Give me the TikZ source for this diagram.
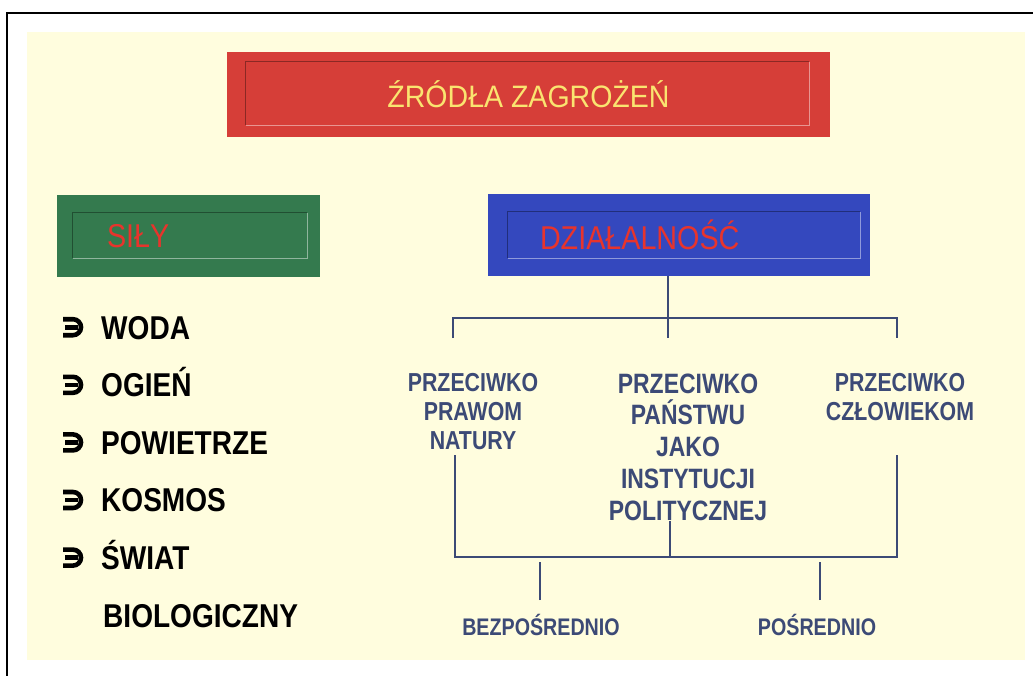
\documentclass[tikz,border=0pt]{standalone}
\usepackage{fontspec}
\setmainfont{Liberation Sans}
\newfontfamily\tytfont[FakeStretch=0.92]{Liberation Sans}
\newfontfamily\naglfont[FakeStretch=0.87]{Liberation Sans}
\newfontfamily\listfont[FakeStretch=0.85]{Liberation Sans}
\newfontfamily\drzfont[FakeStretch=0.82]{Liberation Sans}
\usetikzlibrary{positioning,calc}
\definecolor{tlo}{RGB}{255,253,222}
\definecolor{czerwony}{RGB}{214,62,56}
\definecolor{zielony}{RGB}{52,122,78}
\definecolor{niebieski}{RGB}{52,72,190}
\definecolor{napis}{RGB}{232,52,44}
\definecolor{zolty}{RGB}{250,228,112}
\definecolor{linia}{RGB}{60,74,118}
\tikzset{
  belka/.style={rectangle,inner sep=0pt,minimum height=82},
  ciemna/.style={line width=1.2,black,opacity=.35},
  jasna/.style={line width=1.2,white,opacity=.45},
  punkt/.style={anchor=base west,inner sep=0pt,font=\listfont\bfseries\fontsize{33}{33}\selectfont},
  galaz/.style={align=center,inner sep=0pt,text=linia,font=\drzfont\bfseries\fontsize{26}{29}\selectfont},
  skutek/.style={inner sep=0pt,text=linia,font=\drzfont\bfseries\fontsize{24}{24}\selectfont},
  polacz/.style={linia,line width=1.4},
  strzalka/.style={line width=4.6}
}
\begin{document}
\begin{tikzpicture}[x=1pt,y=-1pt]
	\useasboundingbox (0,0) rectangle (1033,676);
	\fill[white] (0,0) rectangle (1033,676);
	\draw[line width=1.5] (7,676)--(7,13)--(1033,13);
	\fill[tlo] (27,32) rectangle (1025,660);
	% naglowki
	\node[belka,fill=czerwony,minimum width=603,minimum height=85,text=zolty,
		font=\tytfont\fontsize{31}{31}\selectfont] (zrodla) at (528.5,94.5) {ŹRÓDŁA ZAGROŻEŃ};
	\node[belka,fill=zielony,inner xsep=50,text width=163,align=left,text=napis,
		font=\naglfont\fontsize{33}{33}\selectfont] (sily) at (188.5,236) {SIŁY};
	\node[belka,fill=niebieski,inner xsep=52,text width=278,align=left,text=napis,
		font=\naglfont\fontsize{33}{33}\selectfont] (dzial) at (679,235) {DZIAŁALNOŚĆ};
	\draw[ciemna] ($(zrodla.south west)+(19,-12)$) |- ($(zrodla.north east)+(-21,10)$);
	\draw[jasna] ($(zrodla.south west)+(19,-12)$) -| ($(zrodla.north east)+(-21,10)$);
	\draw[ciemna] ($(sily.south west)+(16,-19)$) |- ($(sily.north east)+(-13,18)$);
	\draw[jasna] ($(sily.south west)+(16,-19)$) -| ($(sily.north east)+(-13,18)$);
	\draw[ciemna] ($(dzial.south west)+(20,-18)$) |- ($(dzial.north east)+(-10,18)$);
	\draw[jasna] ($(dzial.south west)+(20,-18)$) -| ($(dzial.north east)+(-10,18)$);
	% sily - lista
	\foreach \t [count=\i] in {WODA,OGIEŃ,POWIETRZE,KOSMOS,ŚWIAT}{
		\node[punkt] (p\i) at (101,281.4+57.6*\i) {\t};
		\draw[strzalka] (63,261.6+57.6*\i)--(73,261.6+57.6*\i) arc (-90:90:8)--(63,277.6+57.6*\i);
		\draw[strzalka] (65,269.6+57.6*\i)--(78,269.6+57.6*\i);
	}
	\node[punkt] (p6) at (103,627) {BIOLOGICZNY};
	% dzialalnosc - drzewo
	\node[galaz] (pn) at (473,412) {PRZECIWKO\\PRAWOM\\NATURY};
	\node[galaz,font=\drzfont\bfseries\fontsize{28}{31.7}\selectfont] (pp) at (688,447) {PRZECIWKO\\PAŃSTWU\\JAKO\\INSTYTUCJI\\POLITYCZNEJ};
	\node[galaz] (pc) at (900,397) {PRZECIWKO\\CZŁOWIEKOM};
	\node[skutek] (bez) at (541,625) {BEZPOŚREDNIO};
	\node[skutek] (pos) at (817,625) {POŚREDNIO};
	\coordinate (rozw) at (668,318);
	\coordinate (gL) at (453,318);
	\coordinate (gP) at (897,318);
	\coordinate (kL) at (453,338);
	\coordinate (kS) at (668,338);
	\coordinate (kP) at (897,338);
	\draw[polacz] (dzial.south -| rozw)--(rozw);
	\draw[polacz] (kL)--(gL)--(gP)--(kP);
	\draw[polacz] (rozw)--(kS);
	\coordinate (dL) at (455,557);
	\coordinate (dP) at (897,557);
	\coordinate (dS) at (670,557);
	\coordinate (bg) at (540,600);
	\coordinate (pg) at (820,600);
	\draw[polacz] (455,455)--(dL)--(dP)--(897,455);
	\draw[polacz] (pp.south -| dS)--(dS);
	\draw[polacz] (bg)--(540,562);
	\draw[polacz] (pg)--(820,562);
\end{tikzpicture}
\end{document}
